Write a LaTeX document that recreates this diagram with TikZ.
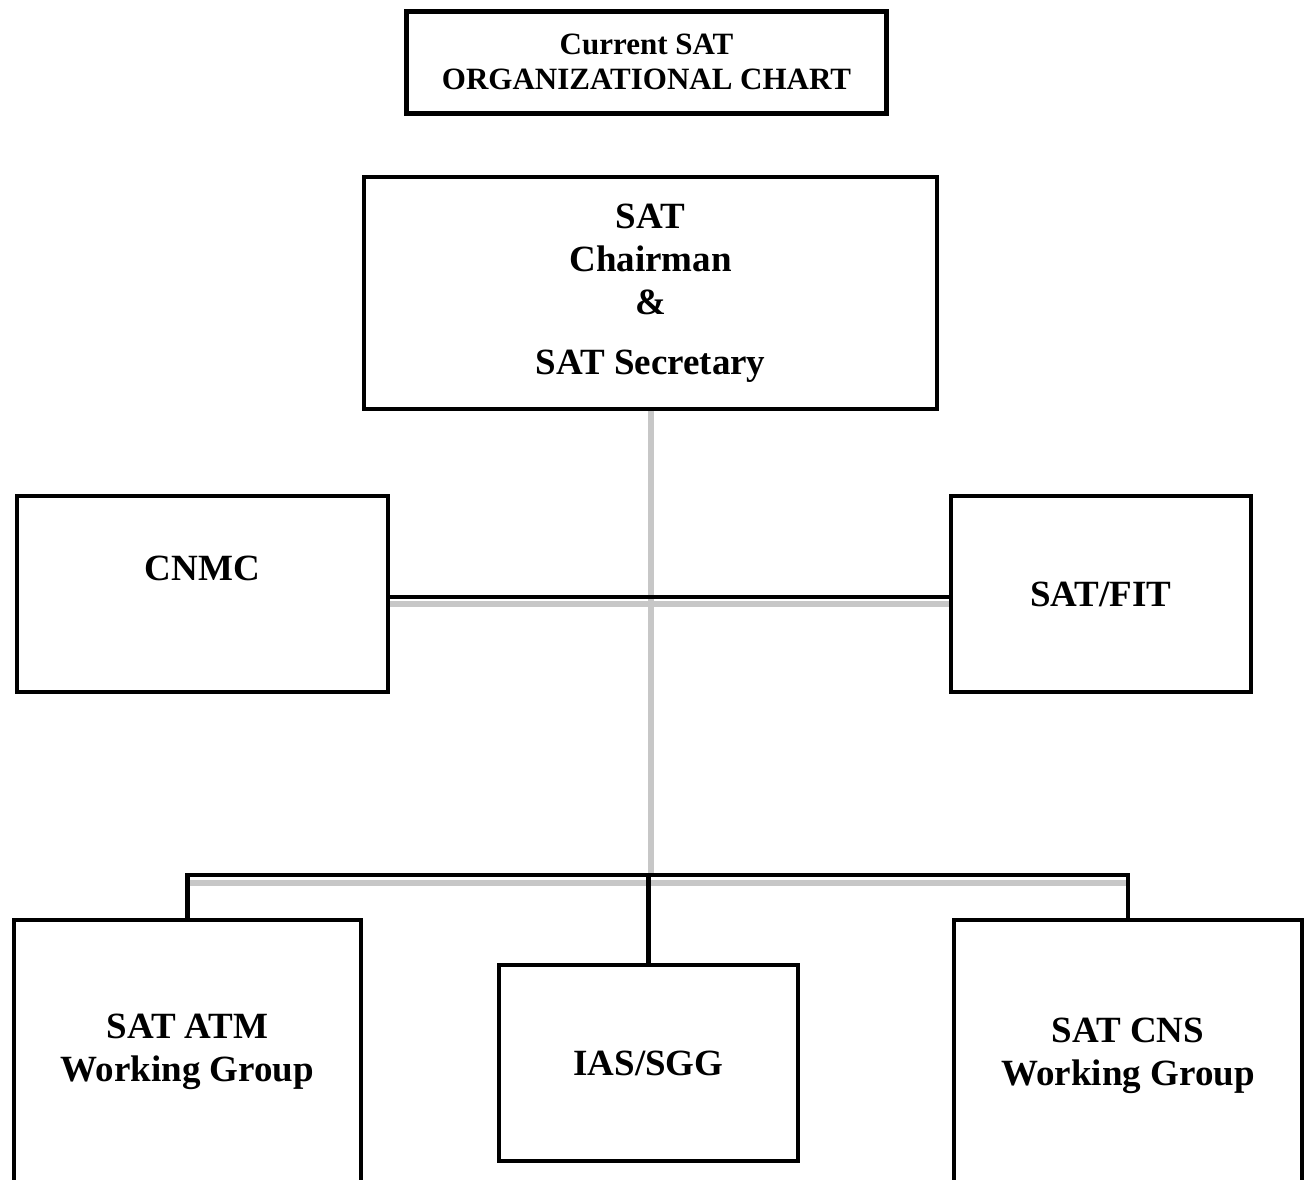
\documentclass[tikz,border=0pt]{standalone}
\usepackage{fontspec}
\setmainfont{Liberation Serif}
\begin{document}
\begin{tikzpicture}[x=1pt,y=-1pt,
  box/.style={draw,line width=4pt,inner sep=0pt,align=center,font=\fontsize{37}{43}\selectfont\bfseries},
  link/.style={line width=4.5pt},
  shade/.style={line width=6pt,black!22}]
  \clip (0,0) rectangle (1306,1179);
  \fill[white] (0,0) rectangle (1306,1179);

  \node[box,line width=5pt,minimum width=480pt,minimum height=102pt,font=\fontsize{31}{35}\selectfont\bfseries] (title) at (646.5,62) {Current SAT\\ORGANIZATIONAL CHART};
  \node[box,minimum width=573pt,minimum height=232pt] (chair) at (650.5,293) {SAT\\Chairman\\\&\\[17pt]SAT Secretary};
  \node[box,minimum width=371pt,minimum height=196pt,text depth=52pt] (cnmc) at (202.5,594) {CNMC};
  \node[box,minimum width=300pt,minimum height=196pt] (fit) at (1101,594) {SAT/FIT};
  \node[box,minimum width=347pt,minimum height=263pt] (atm) at (187.5,1051.5) {SAT ATM\\Working Group};
  \node[box,minimum width=299pt,minimum height=196pt] (ias) at (648.5,1063) {IAS/SGG};
  \node[box,minimum width=348pt,minimum height=272pt] (cns) at (1128,1056) {SAT CNS\\Working Group};
  \coordinate (bus) at (650,875);

  % shaded links
  \draw[shade] (chair.south) -- (chair.south |- bus);
  \draw[shade] ([yshift=-10pt]cnmc.east) -- ([yshift=-10pt]fit.west);
  \draw[shade] ([yshift=-8pt]atm.north |- bus) -- ([yshift=-8pt]cns.north |- bus);

  % black links
  \draw[link] ([yshift=-3pt]cnmc.east) -- ([yshift=-3pt]fit.west);
  \draw[link] (atm.north) -- (atm.north |- bus) -- (cns.north |- bus) -- (cns.north);
  \draw[link] (ias.north) -- (ias.north |- bus);
\end{tikzpicture}
\end{document}
